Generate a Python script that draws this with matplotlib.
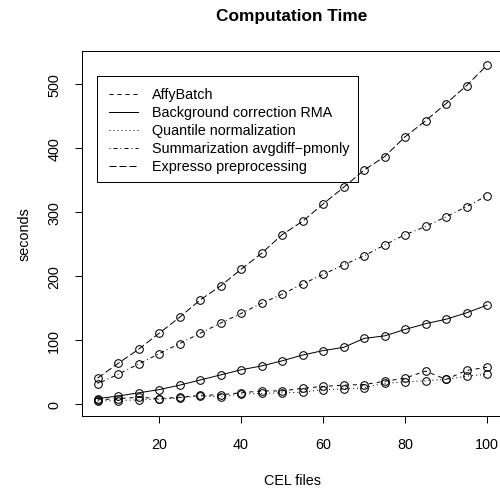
import matplotlib
matplotlib.use("Agg")
import matplotlib.pyplot as plt
from matplotlib.lines import Line2D
from matplotlib.patches import Rectangle

plt.rcParams['font.family'] = ['Liberation Sans', 'DejaVu Sans']

cel_files = [5, 10, 15, 20, 25, 30, 35, 40, 45, 50, 55, 60, 65, 70, 75, 80, 85, 90, 95, 100]
affybatch = [6, 8, 10, 8, 10, 13, 14, 17, 20, 20, 24, 27, 29, 30, 35, 40, 51, 38, 52, 57]
background_rma = [8, 12, 17, 22, 29, 37, 45, 53, 59, 67, 76, 83, 88, 102, 106, 116, 125, 132, 142, 154]
quantile_norm = [4, 5, 6, 7, 9, 12, 11, 15, 16, 17, 18, 22, 23, 25, 32, 34, 36, 38, 43, 46]
summarization = [31, 46, 62, 78, 94, 110, 126, 141, 157, 171, 187, 202, 217, 231, 248, 264, 277, 292, 308, 325]
expresso = [40, 63, 85, 110, 135, 162, 184, 210, 235, 264, 285, 312, 338, 365, 386, 417, 442, 469, 497, 529]

labels = ["AffyBatch", "Background correction RMA", "Quantile normalization",
          "Summarization avgdiff\u2212pmonly", "Expresso preprocessing"]
x_ticks = [20, 40, 60, 80, 100]
y_ticks = [0, 100, 200, 300, 400, 500]

W, H = 500, 489
DPI = 100
LW = 0.72  # 1 px
FS = 10.4
styles = [(0, (4, 4)), '-', (0, (1, 3)), (0, (1, 3, 4, 3)), (0, (7, 3))]
series = [affybatch, background_rma, quantile_norm, summarization, expresso]

fig = plt.figure(figsize=(W / DPI, H / DPI), dpi=DPI)
left, right, top, bottom = 82, 502.6, 51.7, 417
ax = fig.add_axes([left / W, 1 - bottom / H, (right - left) / W, (bottom - top) / H])

for ys, ls in zip(series, styles):
    ax.plot(cel_files, ys, linestyle=ls, color='black', linewidth=LW,
            marker='o', markersize=5.5, markerfacecolor='none',
            markeredgecolor='black', markeredgewidth=0.75)

ax.set_xlim(1.2, 103.8)
ax.set_ylim(-19.2, 551.6)
ax.set_xticks(x_ticks)
ax.set_yticks(y_ticks)
ax.tick_params(axis='both', direction='out', length=5, width=LW, labelsize=FS, color='black')
ax.tick_params(axis='x', pad=10)
ax.tick_params(axis='y', pad=10)
for lab in ax.get_yticklabels():
    lab.set_rotation(90)
    lab.set_va('center')
    lab.set_ha('right')
for s in ax.spines.values():
    s.set_linewidth(LW)
    s.set_color('black')

def px(x, y):
    return x / W, 1 - y / H

fig.text(*px(292, 21), "Computation Time", ha='center', va='baseline',
         fontsize=12.4, fontweight='bold')
fig.text(*px(292, 485.5), "CEL files", ha='center', va='baseline', fontsize=FS)
fig.text(*px(24.5, 234.4), "seconds", ha='center', va='center', rotation=90, fontsize=FS)

# legend
bx0, by0, bx1, by1 = 97.3, 76.7, 358.3, 183.3
fig.add_artist(Rectangle(px(bx0, by1), (bx1 - bx0) / W, (by1 - by0) / H,
                         transform=fig.transFigure, fill=False, edgecolor='black',
                         linewidth=LW))
row0, dy = 95.2, 17.9
for i, (lab, ls) in enumerate(zip(labels, styles)):
    yy = row0 + i * dy
    fig.add_artist(Line2D([109 / W, 138 / W], [1 - yy / H, 1 - yy / H],
                          transform=fig.transFigure, color='black',
                          linewidth=LW, linestyle=ls))
    fig.text(*px(151.7, yy), lab, ha='left', va='center', fontsize=FS)

fig.savefig("out.png", dpi=DPI)
